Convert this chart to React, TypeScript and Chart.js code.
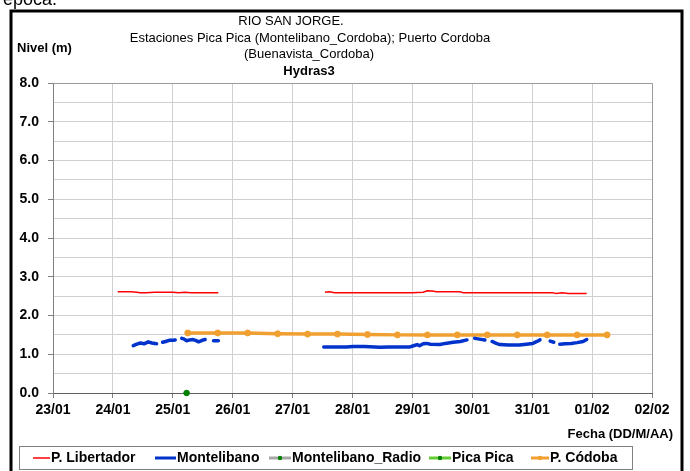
import React, { useEffect, useRef } from "react";
import { Chart, registerables } from "chart.js";

Chart.register(...registerables);

const dateLabels = ["23/01", "24/01", "25/01", "26/01", "27/01", "28/01", "29/01", "30/01", "31/01", "01/02", "02/02"];

const libertadorDays = [1.08, 1.2, 1.3, 1.4, 1.45, 1.55, 1.7, 1.8, 1.9, 2.0, 2.1, 2.2, 2.3, 2.4, 2.5, 2.6, 2.76, 3.5, 4.54, 4.62, 4.7, 5.0, 5.5, 6.0, 6.18, 6.25, 6.33, 6.4, 6.79, 6.85, 7.5, 8.0, 8.34, 8.4, 8.5, 8.6, 8.91];
const libertadorValues = [2.61, 2.61, 2.61, 2.6, 2.59, 2.59, 2.6, 2.6, 2.6, 2.6, 2.59, 2.6, 2.59, 2.59, 2.59, 2.59, 2.59, null, 2.6, 2.61, 2.59, 2.59, 2.59, 2.59, 2.6, 2.64, 2.63, 2.61, 2.61, 2.59, 2.59, 2.59, 2.59, 2.57, 2.59, 2.57, 2.57];

const montelibanoDays = [1.34, 1.4, 1.46, 1.52, 1.59, 1.65, 1.73, 1.78, 1.83, 1.88, 1.94, 2.0, 2.04, 2.1, 2.15, 2.19, 2.23, 2.28, 2.34, 2.39, 2.43, 2.49, 2.54, 2.62, 2.68, 2.76, 3.5, 4.52, 4.7, 4.9, 5.01, 5.2, 5.46, 5.6, 5.8, 5.96, 6.02, 6.08, 6.12, 6.18, 6.24, 6.3, 6.46, 6.55, 6.68, 6.8, 6.91, 6.97, 7.04, 7.12, 7.21, 7.27, 7.33, 7.4, 7.46, 7.6, 7.79, 7.9, 8.01, 8.08, 8.13, 8.2, 8.3, 8.36, 8.4, 8.46, 8.55, 8.65, 8.75, 8.85, 8.91];
const montelibanoValues = [1.22, 1.26, 1.29, 1.27, 1.32, 1.29, 1.27, null, 1.31, 1.33, 1.36, 1.36, 1.37, null, 1.41, 1.39, 1.35, 1.37, 1.38, 1.35, 1.32, 1.36, 1.38, null, 1.35, 1.35, null, 1.19, 1.19, 1.19, 1.2, 1.2, 1.18, 1.19, 1.19, 1.19, 1.22, 1.25, 1.22, 1.27, 1.28, 1.26, 1.25, 1.28, 1.31, 1.33, 1.37, null, 1.41, 1.39, 1.37, null, 1.33, 1.28, 1.25, 1.24, 1.24, 1.26, 1.28, 1.33, 1.37, null, 1.34, 1.31, null, 1.26, 1.27, 1.28, 1.3, 1.33, 1.38];

const radioDays: number[] = [];
const radioValues: number[] = [];

const picaDays = [2.23];
const picaValues = [0.0];

const cordobaDays = [2.25, 2.75, 3.25, 3.75, 4.25, 4.75, 5.25, 5.75, 6.25, 6.75, 7.25, 7.75, 8.25, 8.75, 9.25];
const cordobaValues = [1.55, 1.55, 1.55, 1.53, 1.52, 1.52, 1.51, 1.5, 1.5, 1.5, 1.5, 1.5, 1.5, 1.5, 1.5];

const titleLines = ["RIO SAN JORGE.", "Estaciones Pica Pica (Montelibano_Cordoba); Puerto Cordoba", "(Buenavista_Cordoba)"];
const subTitle = "Hydras3";
const yTitle = "Nivel (m)";
const xTitle = "Fecha (DD/M/AA)";
const legendNames = ["P. Libertador", "Montelibano", "Montelibano_Radio", "Pica Pica", "P. Códoba"];

const FONT = '"Liberation Sans", Arial, sans-serif';

function pts(xs: number[], ys: (number | null)[]) {
  return xs.map((x, i) => ({ x, y: ys[i] }));
}

const decorPlugin = {
  id: "decor",
  afterDraw(chart: any) {
    const ctx = chart.ctx;
    const ca = chart.chartArea;
    ctx.save();
    // plot area border (top/right)
    ctx.strokeStyle = "#9a9a9a";
    ctx.lineWidth = 1;
    ctx.beginPath();
    ctx.moveTo(ca.left, ca.top + 0.5);
    ctx.lineTo(ca.right + 0.5, ca.top + 0.5);
    ctx.lineTo(ca.right + 0.5, ca.bottom);
    ctx.stroke();

    // partial text at top
    ctx.fillStyle = "#000";
    ctx.font = `18px ${FONT}`;
    ctx.textAlign = "left";
    ctx.textBaseline = "alphabetic";
    ctx.fillText("época.", 3, 5);

    // outer border
    ctx.strokeStyle = "#000";
    ctx.lineWidth = 3;
    ctx.strokeRect(11, 11, 671, 480);

    // titles
    ctx.fillStyle = "#000";
    ctx.textBaseline = "middle";
    ctx.textAlign = "center";
    ctx.font = `13px ${FONT}`;
    ctx.fillText(titleLines[0], 291, 21);
    ctx.fillText(titleLines[1], 310, 38);
    ctx.fillText(titleLines[2], 309, 54);
    ctx.font = `bold 13px ${FONT}`;
    ctx.fillText(subTitle, 309, 71);

    ctx.textAlign = "left";
    ctx.fillText(yTitle, 17, 48);
    ctx.textAlign = "right";
    ctx.fillText(xTitle, 673, 434);

    // legend box
    ctx.strokeStyle = "#808080";
    ctx.lineWidth = 1;
    ctx.strokeRect(19.5, 446.5, 613, 23);

    const ly = 458;
    const items = [
      { x0: 33, x1: 50, tx: 51, color: "#ff0000", lw: 1.5, marker: null as string | null, mx: 0 },
      { x0: 155, x1: 176, tx: 177, color: "#0033cc", lw: 3, marker: null, mx: 0 },
      { x0: 269, x1: 291, tx: 292, color: "#a6a6a6", lw: 3, marker: "#008000", mx: 280 },
      { x0: 429, x1: 451, tx: 452, color: "#66cc33", lw: 3, marker: "#008000", mx: 440 },
      { x0: 531, x1: 549, tx: 550, color: "#f0a030", lw: 3, marker: "#f0a030", mx: 540 },
    ];
    items.forEach((it, i) => {
      ctx.strokeStyle = it.color;
      ctx.lineWidth = it.lw;
      ctx.beginPath();
      ctx.moveTo(it.x0, ly);
      ctx.lineTo(it.x1, ly);
      ctx.stroke();
      if (it.marker) {
        ctx.fillStyle = it.marker;
        ctx.beginPath();
        ctx.arc(it.mx, ly, 2.2, 0, Math.PI * 2);
        ctx.fill();
      }
      ctx.fillStyle = "#000";
      ctx.font = `bold 14px ${FONT}`;
      ctx.textAlign = "left";
      ctx.textBaseline = "middle";
      ctx.fillText(legendNames[i], it.tx, ly);
    });
    ctx.restore();
  },
};

export default function App() {
  const ref = useRef<HTMLCanvasElement | null>(null);
  useEffect(() => {
    if (!ref.current) return;
    const chart = new Chart(ref.current, {
      type: "line",
      data: {
        datasets: [
          {
            label: legendNames[0],
            data: pts(libertadorDays, libertadorValues),
            borderColor: "#ff0000",
            borderWidth: 1.5,
            pointRadius: 0,
            spanGaps: false,
          },
          {
            label: legendNames[1],
            data: pts(montelibanoDays, montelibanoValues),
            borderColor: "#0033cc",
            borderWidth: 3.5,
            borderCapStyle: "round",
            borderJoinStyle: "round",
            pointRadius: 0,
            spanGaps: false,
          },
          {
            label: legendNames[2],
            data: pts(radioDays, radioValues),
            borderColor: "#a6a6a6",
            backgroundColor: "#008000",
            borderWidth: 3,
            pointRadius: 2,
          },
          {
            label: legendNames[3],
            data: pts(picaDays, picaValues),
            borderColor: "#008000",
            backgroundColor: "#008000",
            borderWidth: 1,
            pointRadius: 2.8,
            showLine: false,
            clip: false,
          },
          {
            label: legendNames[4],
            data: pts(cordobaDays, cordobaValues),
            borderColor: "#f0a030",
            backgroundColor: "#f0a030",
            pointBackgroundColor: "#f0a030",
            pointBorderColor: "#f0a030",
            borderWidth: 3.5,
            pointRadius: 3,
            pointBorderWidth: 1,
          },
        ] as any,
      },
      options: {
        animation: false,
        responsive: true,
        maintainAspectRatio: false,
        layout: { padding: { left: 0, right: 38, top: 83, bottom: 0 } },
        plugins: {
          legend: { display: false },
          title: { display: false },
          tooltip: { enabled: false },
        },
        scales: {
          x: {
            type: "linear",
            min: 0,
            max: 10,
            afterFit: (s: any) => {
              s.height = 78;
            },
            ticks: {
              stepSize: 1,
              autoSkip: false,
              maxRotation: 0,
              padding: 4,
              color: "#000",
              font: { family: FONT, size: 14, weight: "bold" },
              callback: (v: any) => dateLabels[Math.round(Number(v))] ?? "",
            },
            grid: { color: "#d0d0d0", lineWidth: 1, tickLength: 5, tickColor: "#808080" },
            border: { color: "#606060", width: 1 },
          },
          y: {
            min: 0,
            max: 8,
            afterFit: (s: any) => {
              s.width = 53;
            },
            ticks: {
              stepSize: 0.5,
              autoSkip: false,
              padding: 9,
              color: "#000",
              font: { family: FONT, size: 14, weight: "bold" },
              callback: (v: any) => (Math.abs(Number(v) % 1) < 1e-9 ? Number(v).toFixed(1) : ""),
            },
            grid: {
              color: "#d0d0d0",
              lineWidth: 1,
              tickLength: 5,
              tickColor: (c: any) => (c.tick && Math.abs(c.tick.value % 1) < 1e-9 ? "#808080" : "rgba(0,0,0,0)"),
            },
            border: { color: "#808080", width: 1 },
          },
        },
      } as any,
      plugins: [decorPlugin],
    });
    return () => chart.destroy();
  }, []);
  return (
    <div style={{ position: "absolute", left: 0, top: 0, width: 690, height: 471, background: "#fff" }}>
      <canvas ref={ref} />
    </div>
  );
}
